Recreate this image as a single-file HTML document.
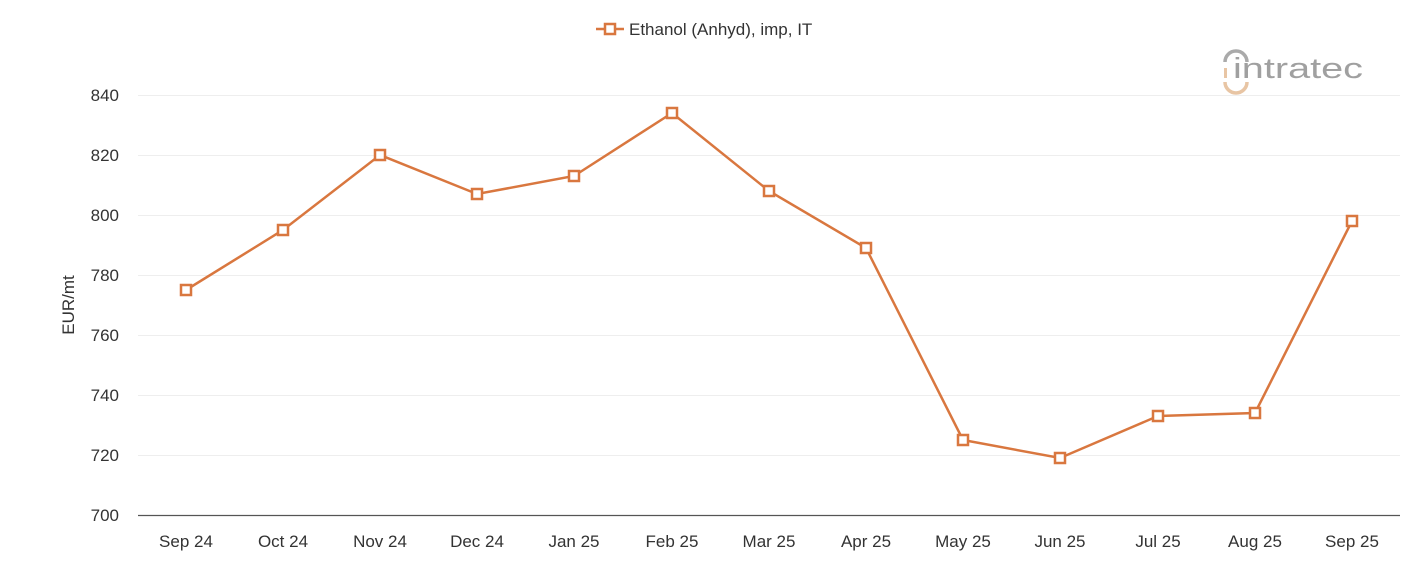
<!DOCTYPE html>
<html><head><meta charset="utf-8"><style>
body{margin:0;background:#fff;}
svg text{font-family:"Liberation Sans",sans-serif;}
</style></head><body>
<svg width="1401" height="561" viewBox="0 0 1401 561" xmlns="http://www.w3.org/2000/svg">
<rect width="1401" height="561" fill="#fff"/>
<g stroke="#eeeeee" stroke-width="1">
<line x1="138" x2="1400" y1="95.5" y2="95.5"/>
<line x1="138" x2="1400" y1="155.5" y2="155.5"/>
<line x1="138" x2="1400" y1="215.5" y2="215.5"/>
<line x1="138" x2="1400" y1="275.5" y2="275.5"/>
<line x1="138" x2="1400" y1="335.5" y2="335.5"/>
<line x1="138" x2="1400" y1="395.5" y2="395.5"/>
<line x1="138" x2="1400" y1="455.5" y2="455.5"/>
</g>
<line x1="138" x2="1400" y1="515.5" y2="515.5" stroke="#555" stroke-width="1.2"/>
<g font-size="17" fill="#333" text-anchor="end">
<text x="119" y="101">840</text><text x="119" y="161">820</text><text x="119" y="221">800</text>
<text x="119" y="281">780</text><text x="119" y="341">760</text><text x="119" y="401">740</text>
<text x="119" y="461">720</text><text x="119" y="521">700</text>
</g>
<text transform="translate(74,305) rotate(-90)" font-size="17" fill="#333" text-anchor="middle">EUR/mt</text>
<g font-size="17" fill="#333" text-anchor="middle">
<text x="186" y="547">Sep 24</text><text x="283" y="547">Oct 24</text><text x="380" y="547">Nov 24</text>
<text x="477" y="547">Dec 24</text><text x="574" y="547">Jan 25</text><text x="672" y="547">Feb 25</text>
<text x="769" y="547">Mar 25</text><text x="866" y="547">Apr 25</text><text x="963" y="547">May 25</text>
<text x="1060" y="547">Jun 25</text><text x="1158" y="547">Jul 25</text><text x="1255" y="547">Aug 25</text>
<text x="1352" y="547">Sep 25</text>
</g>
<polyline fill="none" stroke="#d9773f" stroke-width="2.5" points="186,290 283,230 380,155 477,194 574,176 672,113 769,191 866,248 963,440 1060,458 1158,416 1255,413 1352,221"/>
<g fill="#fff" stroke="#d9773f" stroke-width="2.5">
<rect x="181" y="285" width="10" height="10"/><rect x="278" y="225" width="10" height="10"/>
<rect x="375" y="150" width="10" height="10"/><rect x="472" y="189" width="10" height="10"/>
<rect x="569" y="171" width="10" height="10"/><rect x="667" y="108" width="10" height="10"/>
<rect x="764" y="186" width="10" height="10"/><rect x="861" y="243" width="10" height="10"/>
<rect x="958" y="435" width="10" height="10"/><rect x="1055" y="453" width="10" height="10"/>
<rect x="1153" y="411" width="10" height="10"/><rect x="1250" y="408" width="10" height="10"/>
<rect x="1347" y="216" width="10" height="10"/>
</g>
<line x1="596" x2="624" y1="29" y2="29" stroke="#d9773f" stroke-width="2.5"/>
<rect x="605" y="24" width="10" height="10" fill="#fff" stroke="#d9773f" stroke-width="2.5"/>
<text x="629" y="35" font-size="17" fill="#333">Ethanol (Anhyd), imp, IT</text>
<path d="M1225,62 A11,11 0 0 1 1247,62" fill="none" stroke="#aaa" stroke-width="3.5"/>
<path d="M1225,82 A11,11 0 0 0 1247,82" fill="none" stroke="#e8c5a4" stroke-width="3.5"/>
<rect x="1224" y="68" width="3" height="10" fill="#e8c5a4"/>
<text x="1233" y="78" font-size="29" fill="#a0a0a0" textLength="130" lengthAdjust="spacingAndGlyphs">intratec</text>
</svg>
</body></html>
